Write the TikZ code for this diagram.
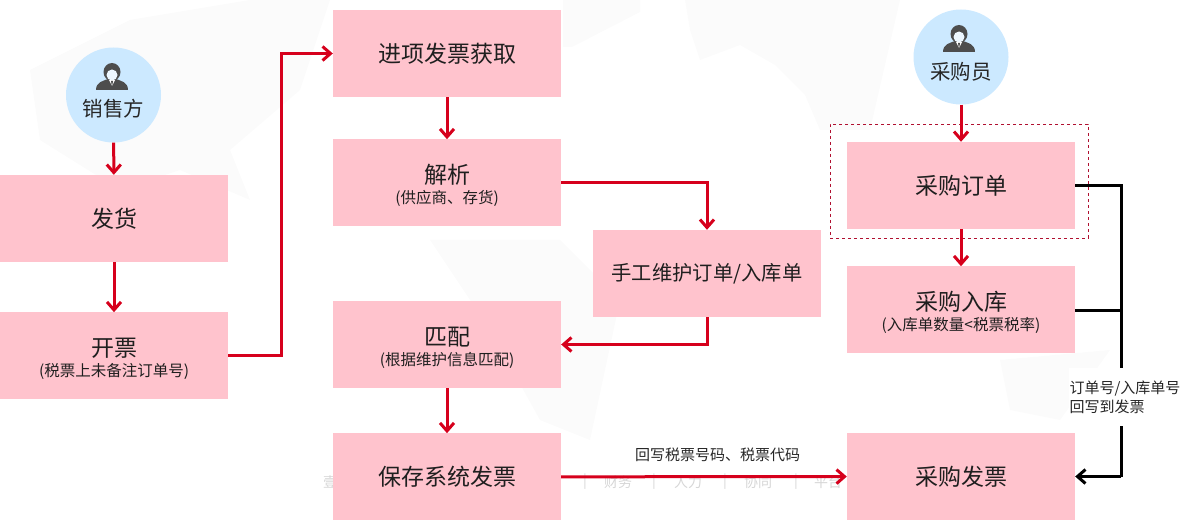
\documentclass[tikz,border=0pt]{standalone}
\usepackage{fontspec}
\setmainfont{Noto Sans CJK SC}
\usepackage{xcolor}
\definecolor{boxpink}{RGB}{255,195,205}
\definecolor{rolesky}{RGB}{204,233,255}
\definecolor{flowred}{RGB}{214,0,28}
\definecolor{framered}{RGB}{176,16,48}
\definecolor{iconslate}{RGB}{77,77,77}
\definecolor{mapgray}{RGB}{251,251,251}
\usetikzlibrary{
  arrows.meta,
  positioning,
  calc
}
\tikzset{
  stepbox/.style={fill=boxpink, minimum width=228pt, minimum height=87pt,
    inner sep=0pt, align=center, text=black!88, font=\fontsize{23}{26}\selectfont},
  rolecircle/.style={circle, fill=rolesky, minimum size=95pt, inner sep=0pt,
    text=black!85, text height=14pt, text depth=0pt, font=\fontsize{20.5}{24}\selectfont},
  notetext/.style={align=left, inner sep=0pt, text=black!85, font=\fontsize{15}{19}\selectfont},
  faintword/.style={inner sep=0pt, text=black!16, font=\fontsize{14}{16}\selectfont},
  redarr/.style={-{Straight Barb[length=8pt,width=14pt,line width=3pt]}, line width=3pt, flowred},
  blackarr/.style={-{Straight Barb[length=8pt,width=14pt,line width=3pt]}, line width=3pt, black},
  blackline/.style={line width=3pt, black},
  mapblob/.style={fill=mapgray, draw=none},
}
\newcommand{\twolabel}[2]{\rule{0pt}{25pt}#1\\[-6pt]{\fontsize{15.5}{18}\selectfont #2}}
\newcommand{\personicon}[1]{%
  \fill[iconslate, shift={(#1)}] (-16,13) .. controls (-16,5) and (-9,4) .. (-4,2)
    -- (0,5) -- (4,2) .. controls (9,4) and (16,5) .. (16,13) -- cycle;
  \fill[iconslate, shift={(#1)}] (0,-5) ellipse (8.5pt and 9pt);
  \fill[rolesky!35!white, shift={(#1)}] (0,-2) ellipse (5.5pt and 5.5pt);
  \fill[white, shift={(#1)}] (-3,3) -- (3,3) -- (0,9) -- cycle;
  \fill[iconslate, shift={(#1)}] (-1,4) -- (1,4) -- (0,10) -- cycle;
}

\begin{document}
\begin{tikzpicture}[x=1pt, y=-1pt]
  \useasboundingbox (0,0) rectangle (1185,529);

  % Faint map behind everything
  \fill[mapblob] (30,70) -- (130,20) -- (250,0) -- (330,0) -- (300,90) -- (230,150) -- (250,200)
    -- (180,170) -- (120,190) -- (40,140) -- cycle;
  \fill[mapblob] (563,0) -- (640,0) -- (640,12) -- (572,47) -- (563,47) -- cycle;
  \fill[mapblob] (685,0) -- (900,0) -- (870,130) -- (820,130) -- (805,95) -- (775,65) -- (740,45)
    -- (700,60) -- (690,30) -- cycle;
  \fill[mapblob] (430,240) -- (560,240) -- (620,300) -- (590,440) -- (540,420) -- (490,330) -- cycle;
  \fill[mapblob] (1000,360) -- (1110,350) -- (1060,420) -- (1010,410) -- cycle;

  % Faint words along the bottom
  \node[faintword] (wmone) at (330,482) {壹};
  \node[faintword] (wmtwo) at (618,482) {财务};
  \node[faintword] (wmthree) at (688,482) {人力};
  \node[faintword] (wmfour) at (758,482) {协同};
  \node[faintword] (wmfive) at (828,482) {平台};
  \foreach \barx in {585,654,725,796}
    \node[faintword] (wmbar\barx) at (\barx,482) {|};

  % Seller column
  \node[rolecircle] (seller) at (113.5,95) {\raisebox{-15pt}{销售方}};
  \node[stepbox] (ship) at (114,218.5) {发货};
  \node[stepbox, below=50pt of ship] (invoice)
    {\twolabel{开票}{(税票上未备注订单号)}};

  % Middle column
  \node[stepbox] (fetch) at (447,53.5) {进项发票获取};
  \node[stepbox, below=42pt of fetch] (parse)
    {\twolabel{解析}{(供应商、存货)}};
  \node[stepbox] (match) at (447,344.5)
    {\twolabel{匹配}{(根据维护信息匹配)}};
  \node[stepbox, below=45pt of match] (save) {保存系统发票};
  \node[stepbox, font=\fontsize{20.3}{24}\selectfont] (manual) at (707,273.5) {手工维护订单/入库单};

  % Buyer column
  \node[rolecircle] (buyer) at (961,57) {\raisebox{-16pt}{采购员}};
  \node[stepbox] (order) at (961,185.5) {采购订单};
  \node[stepbox, below=37pt of order] (stockin)
    {\twolabel{采购入库}{(入库单数量<税票税率)}};
  \node[stepbox] (purchase) at (961,476.5) {采购发票};
  \node[draw=framered, dashed, line width=0.8pt, minimum width=258pt, minimum height=114pt,
        inner sep=0pt] (orderframe) at (959,181) {};

  % Person icons
  \personicon{112,77}
  \personicon{959,39}

  % Arrows
  \draw[redarr] (seller) -- (ship);
  \draw[redarr] (ship) -- (invoice);
  \draw[redarr] (invoice.east) -- ++(53,0) |- (fetch.west);
  \draw[redarr] (fetch) -- (parse);
  \draw[redarr] (parse.east) -| (manual.north);
  \draw[redarr] (manual.south) |- (match.east);
  \draw[redarr] (match) -- (save);
  \draw[redarr] (save) -- (purchase)
    node[pos=0.548, above=13pt, inner sep=0pt, text=black!85, font=\fontsize{15}{17}\selectfont] (backfill) {回写税票号码、税票代码};
  \draw[redarr] (buyer) -- (order);
  \draw[redarr] (order) -- (stockin);

  \draw[blackline] (order.east) -- ++(46,0) coordinate (trunk) -- (trunk |- purchase.east);
  \draw[blackline] (stockin.east |- 0,310) -- (trunk |- 0,310);
  \draw[blackarr] (trunk |- purchase.east) -- (purchase.east);
  \node[notetext, fill=white, minimum height=58pt, minimum width=112pt] (writeback) at (1125,397)
    {订单号/入库单号\\回写到发票};
\end{tikzpicture}
\end{document}
